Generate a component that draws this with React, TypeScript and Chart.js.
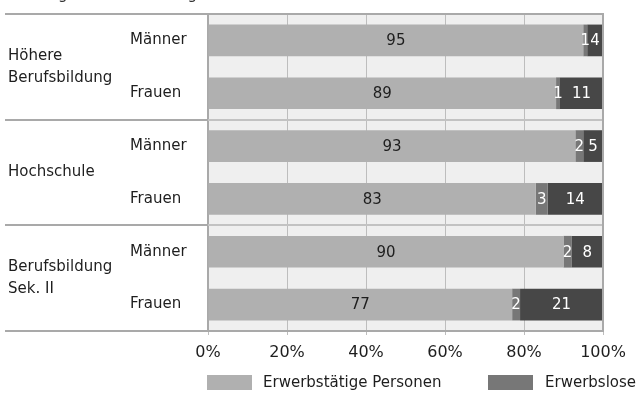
import React, { useEffect, useRef } from "react";
import { Chart, registerables } from "chart.js";

Chart.register(...registerables);

// Education groups (outer axis labels) and the gender rows inside each group
const groupLabels = [["Höhere", "Berufsbildung"], ["Hochschule"], ["Berufsbildung", "Sek. II"]];
const genderLabels = ["Männer", "Frauen", "Männer", "Frauen", "Männer", "Frauen"];

// Values as labelled on the bars (rounded shares in %)
const employed = [95, 89, 93, 83, 90, 77];
const unemployed = [1, 1, 2, 3, 2, 2];
const inactive = [4, 11, 5, 14, 8, 21];

const seriesNames = ["Erwerbstätige Personen", "Erwerbslose", "Nichterwerbspersonen"];
const seriesColors = ["#b0b0b0", "#777777", "#474747"];
const labelColors = ["#1e1e1e", "#ffffff", "#ffffff"];

const xTicks = [0, 20, 40, 60, 80, 100];
const titleText = "Stellung nach Ausbildung und Geschlecht";

const FONT = "'DejaVu Sans', sans-serif";

const totals = employed.map((v, i) => v + unemployed[i] + inactive[i]);
const toShare = (arr: number[]) => arr.map((v, i) => (v / totals[i]) * 100);
const rawSeries = [employed, unemployed, inactive];

const decorPlugin = {
  id: "decor",
  beforeDraw(chart: any) {
    const { ctx, chartArea } = chart;
    ctx.save();
    ctx.fillStyle = "#efefef";
    ctx.fillRect(chartArea.left, chartArea.top, chartArea.right - chartArea.left, chartArea.bottom - chartArea.top);
    ctx.restore();
  },
  beforeDatasetsDraw(chart: any) {
    const { ctx, chartArea, scales } = chart;
    const y = scales.y;
    ctx.save();
    // group separators inside the plot
    ctx.strokeStyle = "#c2c2c2";
    ctx.lineWidth = 2;
    for (const i of [2, 4]) {
      const yy = Math.round((y.getPixelForValue(i - 1) + y.getPixelForValue(i)) / 2);
      ctx.beginPath();
      ctx.moveTo(chartArea.left, yy);
      ctx.lineTo(chartArea.right, yy);
      ctx.stroke();
    }
    ctx.restore();
  },
  afterDatasetsDraw(chart: any) {
    const { ctx, chartArea, scales } = chart;
    const y = scales.y;
    ctx.save();

    // value labels centred in each segment
    ctx.font = `15px ${FONT}`;
    ctx.textAlign = "center";
    ctx.textBaseline = "middle";
    chart.data.datasets.forEach((ds: any, di: number) => {
      const meta = chart.getDatasetMeta(di);
      meta.data.forEach((bar: any, i: number) => {
        ctx.fillStyle = labelColors[di];
        ctx.fillText(String(rawSeries[di][i]), (bar.x + bar.base) / 2, bar.y + 1);
      });
    });

    // frame: top and right edges
    ctx.strokeStyle = "#a9a9a9";
    ctx.lineWidth = 2;
    ctx.beginPath();
    ctx.moveTo(chartArea.left, chartArea.top);
    ctx.lineTo(chartArea.right, chartArea.top);
    ctx.lineTo(chartArea.right, chartArea.bottom);
    ctx.stroke();

    // group separators extending into the label column
    const bounds = [
      chartArea.top,
      Math.round((y.getPixelForValue(1) + y.getPixelForValue(2)) / 2),
      Math.round((y.getPixelForValue(3) + y.getPixelForValue(4)) / 2),
      chartArea.bottom,
    ];
    bounds.forEach((yy) => {
      ctx.beginPath();
      ctx.moveTo(5, yy);
      ctx.lineTo(chartArea.left, yy);
      ctx.stroke();
    });

    // gender labels
    ctx.fillStyle = "#1e1e1e";
    ctx.font = `15px ${FONT}`;
    ctx.textAlign = "left";
    ctx.textBaseline = "middle";
    genderLabels.forEach((g, i) => {
      ctx.fillText(g, 130, y.getPixelForValue(i));
    });

    // group labels
    groupLabels.forEach((lines, gi) => {
      const mid = (bounds[gi] + bounds[gi + 1]) / 2;
      const lh = 22;
      lines.forEach((line, li) => {
        ctx.fillText(line, 8, mid + (li - (lines.length - 1) / 2) * lh);
      });
    });

    // title (runs off the top edge)
    ctx.textBaseline = "alphabetic";
    ctx.fillStyle = "#333333";
    ctx.fillText(titleText, 6, -1);

    // legend
    const legendItems = [
      { box: 207, text: 263 },
      { box: 488, text: 545 },
      { box: 770, text: 826 },
    ];
    legendItems.forEach((it, i) => {
      ctx.fillStyle = seriesColors[i];
      ctx.fillRect(it.box, 375, 45, 15);
      ctx.fillStyle = "#1e1e1e";
      ctx.textBaseline = "middle";
      ctx.fillText(seriesNames[i], it.text, 383);
    });

    ctx.restore();
  },
};

export default function App() {
  const ref = useRef<HTMLCanvasElement | null>(null);

  useEffect(() => {
    if (!ref.current) return;
    const chart = new Chart(ref.current, {
      type: "bar",
      data: {
        labels: genderLabels,
        datasets: [employed, unemployed, inactive].map((arr, i) => ({
          label: seriesNames[i],
          data: toShare(arr),
          backgroundColor: seriesColors[i],
          borderWidth: 0,
          barPercentage: 0.6,
          categoryPercentage: 1,
        })),
      },
      options: {
        indexAxis: "y",
        responsive: false,
        animation: false,
        devicePixelRatio: 1,
        layout: { padding: { top: 14, right: 35, bottom: 0, left: 0 } },
        plugins: {
          legend: { display: false },
          title: { display: false },
          tooltip: { enabled: false },
        },
        scales: {
          x: {
            stacked: true,
            min: 0,
            max: 100,
            afterBuildTicks: (scale: any) => {
              scale.ticks = xTicks.map((v) => ({ value: v }));
            },
            afterFit: (scale: any) => {
              scale.height = 70;
            },
            ticks: {
              callback: (v: any) => `${v}%`,
              color: "#1e1e1e",
              font: { family: FONT, size: 16 },
              padding: 8,
              maxRotation: 0,
            },
            grid: { color: "#bdbdbd", lineWidth: 1, tickLength: 4, drawTicks: true },
            border: { color: "#a9a9a9", width: 2 },
          },
          y: {
            stacked: true,
            ticks: { display: false },
            grid: { display: false },
            border: { color: "#a9a9a9", width: 2 },
            afterFit: (scale: any) => {
              scale.width = 208;
            },
          },
        },
      },
      plugins: [decorPlugin],
    } as any);
    return () => chart.destroy();
  }, []);

  return (
    <div style={{ position: "absolute", left: 0, top: 0, width: 638, height: 401, background: "#ffffff" }}>
      <canvas ref={ref} width={638} height={401} />
    </div>
  );
}
